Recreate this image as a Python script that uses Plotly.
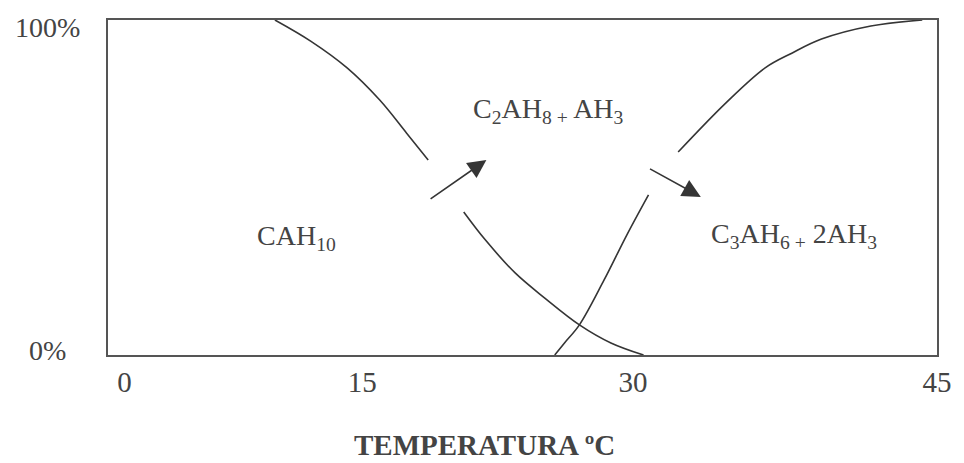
import plotly.graph_objects as go

# Schematic conversion of calcium aluminate hydrates with temperature.
# x values are positions along the (schematic) temperature axis, y is share in %.

# CAH10 fraction (upper and lower branch, broken where the arrow passes)
cah10_hi_x = [9.06, 11.0, 12.98, 14.75, 16.2, 17.38]
cah10_hi_y = [100.0, 93.7, 85.7, 76.1, 66.3, 58.2]
cah10_lo_x = [19.31, 20.49, 22.10, 23.71, 25.59, 27.30, 29.07]
cah10_lo_y = [42.7, 34.3, 24.5, 17.0, 9.0, 3.6, 0.0]

# C3AH6 fraction (lower and upper branch)
c3ah6_lo_x = [24.25, 24.78, 25.59, 26.93, 28.16, 29.34]
c3ah6_lo_y = [0.0, 3.6, 9.0, 22.4, 35.8, 47.8]
c3ah6_hi_x = [30.95, 33.53, 35.67, 37.12, 38.73, 41.41, 44.20]
c3ah6_hi_y = [60.6, 75.2, 85.7, 90.1, 94.3, 98.2, 100.0]

# Temperature axis: tick positions along the drawn axis and their labels
tick_pos = [0.9, 13.8, 28.5, 45.0]
tick_text = ["0", "15", "30", "45"]

# Vertical scale labels
y_vals = [0, 100]
y_text = ["0%", "100%"]

# Phase labels
phase_x = [7.99, 19.7, 32.6]
phase_y = [35.1, 73.1, 35.8]
phase_text = [
    "CAH<sub>10</sub>",
    "C<sub>2</sub>AH<sub>8 +</sub> AH<sub>3</sub>",
    "C<sub>3</sub>AH<sub>6 +</sub> 2AH<sub>3</sub>",
]

# Transformation arrows: tail -> head
arrow_tail_x = [17.43, 29.34]
arrow_tail_y = [46.3, 55.8]
arrow_head_x = [20.54, 32.18]
arrow_head_y = [58.2, 47.2]

LINE = "#353535"
TEXT = "#444444"
FONT = "Liberation Serif"

fig = go.Figure()
for xs, ys in [(cah10_hi_x, cah10_hi_y), (cah10_lo_x, cah10_lo_y),
               (c3ah6_lo_x, c3ah6_lo_y), (c3ah6_hi_x, c3ah6_hi_y)]:
    fig.add_trace(go.Scatter(
        x=xs, y=ys, mode="lines",
        line=dict(color=LINE, width=1.6, shape="spline", smoothing=1.0),
        hoverinfo="skip", showlegend=False,
    ))

annotations = []
for tx, ty, hx, hy in zip(arrow_tail_x, arrow_tail_y, arrow_head_x, arrow_head_y):
    annotations.append(dict(
        x=hx, y=hy, ax=tx, ay=ty, xref="x", yref="y", axref="x", ayref="y",
        text="", showarrow=True, arrowhead=2, arrowsize=2.3, arrowwidth=1.6,
        arrowcolor=LINE,
    ))

for px, py, t in zip(phase_x, phase_y, phase_text):
    annotations.append(dict(
        x=px, y=py, xref="x", yref="y", text=t, showarrow=False,
        xanchor="left", yanchor="middle",
        font=dict(family=FONT, size=28, color=TEXT),
    ))

for v, t, shift in zip(y_vals, y_text, [5, -7]):
    annotations.append(dict(
        x=-0.0727, y=v, xref="paper", yref="y", text=t, showarrow=False,
        xanchor="center", yanchor="middle", yshift=shift,
        font=dict(family=FONT, size=28, color=TEXT),
    ))

# axis title sits just above the bottom edge of the page
annotations.append(dict(
    x=0.454, y=-0.3194, xref="paper", yref="paper",
    text="<b>TEMPERATURA ºC</b>", showarrow=False,
    xanchor="center", yanchor="bottom", borderpad=0,
    font=dict(family=FONT, size=29, color=TEXT),
))

fig.update_layout(
    width=964, height=463,
    margin=dict(l=108, r=17, t=20, b=108),
    paper_bgcolor="white", plot_bgcolor="white",
    annotations=annotations,
    xaxis=dict(
        range=[0, 45], showgrid=False, zeroline=False,
        showline=True, mirror=True, linecolor="#555555", linewidth=1.5,
        tickmode="array", tickvals=tick_pos, ticktext=tick_text,
        ticks="", ticklabelstandoff=0,
        tickfont=dict(family=FONT, size=29, color=TEXT),
    ),
    yaxis=dict(
        range=[0, 100], showgrid=False, zeroline=False,
        showline=True, mirror=True, linecolor="#555555", linewidth=1.5,
        showticklabels=False, ticks="",
    ),
)

fig.write_html("out.html")
